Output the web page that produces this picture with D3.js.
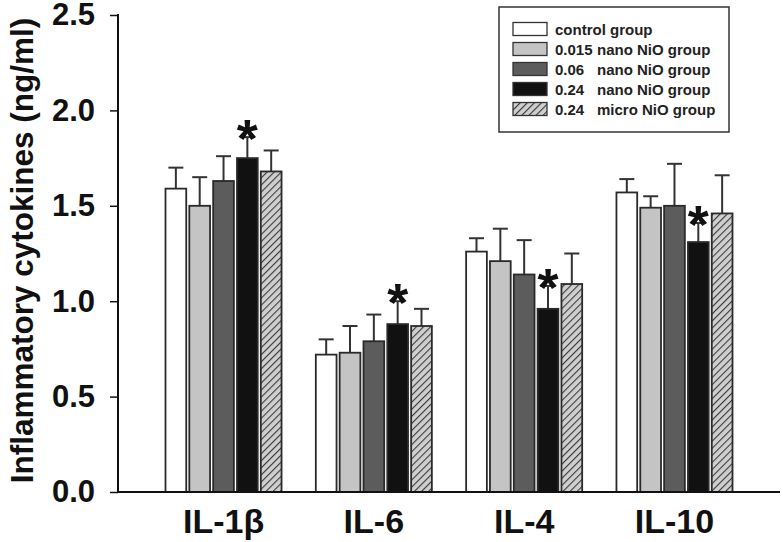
<!DOCTYPE html>
<html>
<head>
<meta charset="utf-8">
<script src="https://cdn.jsdelivr.net/npm/d3@7"></script>
<style>
  html, body { margin: 0; padding: 0; background: #fff; }
  svg { display: block; }
  text { font-family: "Liberation Sans", Arial, sans-serif; }
</style>
</head>
<body>
<svg id="chart" width="783" height="542"></svg>
<script>
// ---------- data ----------
const categories = ["IL-1β", "IL-6", "IL-4", "IL-10"];
const seriesKeys = ["control", "nano015", "nano06", "nano24", "micro24"];
const legendNums = ["", "0.015", "0.06", "0.24", "0.24"];
const legendLabels = ["control group", "nano NiO group", "nano NiO group", "nano NiO group", "micro NiO group"];

const control = [1.59, 0.72, 1.26, 1.57];
const nano015 = [1.50, 0.73, 1.21, 1.49];
const nano06  = [1.63, 0.79, 1.14, 1.50];
const nano24  = [1.75, 0.88, 0.96, 1.31];
const micro24 = [1.68, 0.87, 1.09, 1.46];

const controlErr = [0.11, 0.08, 0.07, 0.07];
const nano015Err = [0.15, 0.14, 0.17, 0.06];
const nano06Err  = [0.13, 0.14, 0.18, 0.22];
const nano24Err  = [0.11, 0.12, 0.12, 0.10];
const micro24Err = [0.11, 0.09, 0.16, 0.20];

const nano24Significant = [true, true, true, true];

const yTicks = [0, 0.5, 1.0, 1.5, 2.0, 2.5];
const yTickLabels = ["0.0", "0.5", "1.0", "1.5", "2.0", "2.5"];
const yTitle = "Inflammatory cytokines (ng/ml)";

// ---------- build ----------
const values = [control, nano015, nano06, nano24, micro24];
const errors = [controlErr, nano015Err, nano06Err, nano24Err, micro24Err];
const fills = ["#ffffff", "#c4c4c4", "#5c5c5c", "#111111", "url(#hatch)"];

const svg = d3.select("#chart");
const defs = svg.append("defs");
const pat = defs.append("pattern")
  .attr("id", "hatch").attr("patternUnits", "userSpaceOnUse")
  .attr("width", 5).attr("height", 5)
  .attr("patternTransform", "rotate(45)");
pat.append("rect").attr("width", 5).attr("height", 5).attr("fill", "#cfcfcf");
pat.append("line").attr("x1", 0).attr("y1", 0).attr("x2", 0).attr("y2", 5)
  .attr("stroke", "#3a3a3a").attr("stroke-width", 2.2);

const xLeft = 118, xRight = 780, yTop = 15, yBottom = 492;

const y = d3.scaleLinear().domain([0, 2.5]).range([yBottom, yTop]);
const x0 = d3.scaleBand().domain(categories).range([xLeft, xRight])
  .paddingInner(0.228).paddingOuter(0.316);
const x1 = d3.scaleBand().domain(seriesKeys).range([0, x0.bandwidth()])
  .paddingInner(0.13).paddingOuter(0);

// bars
const rows = [];
categories.forEach((c, ci) => {
  seriesKeys.forEach((s, si) => {
    rows.push({ c, s, si, v: values[si][ci], e: errors[si][ci],
      sig: si === 3 && nano24Significant[ci] });
  });
});

const g = svg.append("g");
g.selectAll("line.err").data(rows).enter().append("line")
  .attr("x1", d => x0(d.c) + x1(d.s) + x1.bandwidth() / 2)
  .attr("x2", d => x0(d.c) + x1(d.s) + x1.bandwidth() / 2)
  .attr("y1", d => y(d.v)).attr("y2", d => y(d.v + d.e))
  .attr("stroke", "#333").attr("stroke-width", 2);
g.selectAll("line.cap").data(rows).enter().append("line")
  .attr("x1", d => x0(d.c) + x1(d.s) + x1.bandwidth() / 2 - 7.5)
  .attr("x2", d => x0(d.c) + x1(d.s) + x1.bandwidth() / 2 + 7.5)
  .attr("y1", d => y(d.v + d.e)).attr("y2", d => y(d.v + d.e))
  .attr("stroke", "#333").attr("stroke-width", 2);

g.selectAll("rect.bar").data(rows).enter().append("rect")
  .attr("x", d => x0(d.c) + x1(d.s))
  .attr("width", x1.bandwidth())
  .attr("y", d => y(d.v))
  .attr("height", d => y(0) - y(d.v))
  .attr("fill", d => fills[d.si])
  .attr("stroke", "#2a2a2a").attr("stroke-width", 1.8);

// asterisks
const starSize = 54;
g.selectAll("text.star").data(rows.filter(d => d.sig)).enter().append("text")
  .attr("x", d => x0(d.c) + x1(d.s) + x1.bandwidth() / 2)
  .attr("y", d => y(d.v + d.e) - 11 + 0.575 * starSize)
  .attr("text-anchor", "middle")
  .attr("font-size", starSize).attr("font-weight", "bold").attr("fill", "#111")
  .text("*");

// y axis
const yAxis = d3.axisLeft(y).tickValues(yTicks)
  .tickFormat((d, i) => yTickLabels[i]).tickSize(8).tickPadding(15);
const ya = svg.append("g").attr("transform", `translate(${xLeft},0)`).call(yAxis);
ya.select(".domain").remove();
ya.append("line").attr("x1", 0).attr("x2", 0).attr("y1", yTop - 1).attr("y2", yBottom + 1)
  .attr("stroke", "#111").attr("stroke-width", 2);
ya.selectAll(".tick line").attr("stroke", "#111").attr("stroke-width", 1.5);
ya.selectAll(".tick text").attr("font-size", 31).attr("font-weight", "bold")
  .attr("fill", "#111").attr("font-family", "Liberation Sans, Arial, sans-serif");

// x axis
const xAxis = d3.axisBottom(x0).tickSize(0).tickPadding(17);
const xa = svg.append("g").attr("transform", `translate(0,${yBottom})`).call(xAxis);
xa.select(".domain").remove();
xa.append("line").attr("x1", xLeft).attr("x2", xRight).attr("y1", 0).attr("y2", 0)
  .attr("stroke", "#111").attr("stroke-width", 2);
xa.selectAll(".tick text").attr("font-size", 34).attr("font-weight", "bold")
  .attr("fill", "#111").attr("font-family", "Liberation Sans, Arial, sans-serif")
  .attr("dy", "0.71em");

// y title
svg.append("text")
  .attr("transform", `translate(33,${(yTop + yBottom) / 2 - 3}) rotate(-90)`)
  .attr("text-anchor", "middle")
  .attr("font-size", 31.5).attr("font-weight", "bold").attr("fill", "#111")
  .text(yTitle);

// legend
const lg = svg.append("g");
lg.append("rect").attr("x", 499).attr("y", 7).attr("width", 230).attr("height", 125)
  .attr("fill", "#fff").attr("stroke", "#333").attr("stroke-width", 1.5);
const rowY = d3.scalePoint().domain(seriesKeys).range([29, 109]);
seriesKeys.forEach((s, i) => {
  lg.append("rect").attr("x", 513).attr("y", rowY(s) - 6.5).attr("width", 34).attr("height", 13)
    .attr("fill", fills[i]).attr("stroke", "#333").attr("stroke-width", 1.3);
  if (legendNums[i]) {
    lg.append("text").attr("x", 555).attr("y", rowY(s) + 5.5)
      .attr("font-size", 15).attr("font-weight", "bold").attr("fill", "#222")
      .text(legendNums[i]);
    lg.append("text").attr("x", 597).attr("y", rowY(s) + 5.5)
      .attr("font-size", 15).attr("font-weight", "bold").attr("fill", "#222")
      .text(legendLabels[i]);
  } else {
    lg.append("text").attr("x", 555).attr("y", rowY(s) + 5.5)
      .attr("font-size", 15).attr("font-weight", "bold").attr("fill", "#222")
      .text(legendLabels[i]);
  }
});
</script>
</body>
</html>
